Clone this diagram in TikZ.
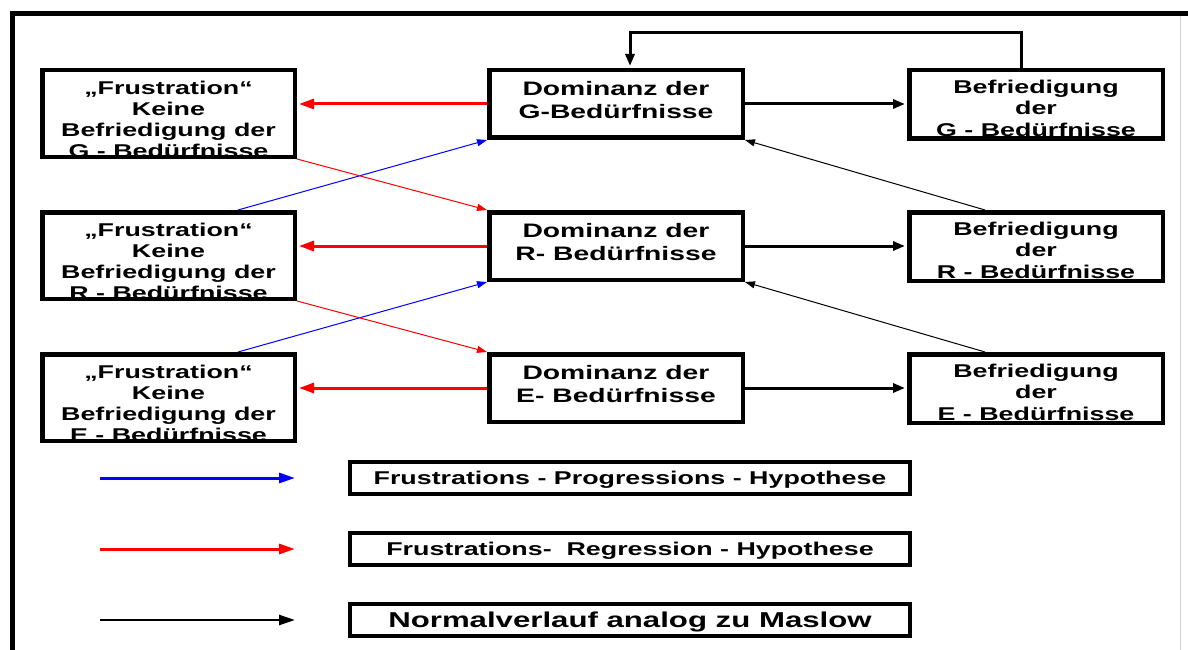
\documentclass[tikz,border=0pt]{standalone}
\usepackage{fontspec}
\setmainfont{Liberation Sans}[FakeStretch=1.45]
\usetikzlibrary{arrows.meta}
\begin{document}
\begin{tikzpicture}[x=1pt,y=-1pt,
  box/.style={draw, line width=4.5pt, fill=white, inner sep=0pt, align=center},
  lbox/.style={box, minimum width=252.5pt, minimum height=86.5pt},
  mbox/.style={box, minimum width=253.5pt, minimum height=67.5pt,
     font=\bfseries\fontsize{19.5}{23}\selectfont},
  rbox/.style={box, minimum width=253.5pt, minimum height=68.5pt,
     font=\bfseries\fontsize{18.5}{21.5}\selectfont},
  legbox/.style={box, line width=4pt, minimum width=560pt, minimum height=32pt},
  ltext/.style={align=center, inner sep=0pt, font=\bfseries\fontsize{18.5}{21}\selectfont},
  redthick/.style={draw=red, line width=3pt, -{Triangle[length=15pt,width=10pt]}},
  blackthick/.style={draw=black, line width=3pt, -{Triangle[length=12pt,width=9pt]}},
  thinarrow/.style={line width=1pt, -{Triangle[length=10pt,width=7pt]}},
  legarrow/.style={line width=3pt, -{Triangle[length=16pt,width=10pt]}}
]
\useasboundingbox (0,0) rectangle (1188,650);
% outer frame
\coordinate (fa) at (12.5,650);
\coordinate (fb) at (12.5,14);
\coordinate (fc) at (1188,14);
\coordinate (ga) at (1180,16);
\coordinate (gb) at (1180,650);
\draw[gray!35, line width=1pt] (ga) -- (gb);
\draw[line width=5pt] (fa) -- (fb) -- (fc);

% left frustration boxes (text clipped by the box)
\node[lbox, path picture={\node[ltext] (frustGt) at ([yshift=-6pt]path picture bounding box.center)
   {„Frustration“\\Keine\\Befriedigung der\\G - Bedürfnisse};}] (frustG) at (168.5,113.5) {};
\node[lbox, path picture={\node[ltext] (frustRt) at ([yshift=-6pt]path picture bounding box.center)
   {„Frustration“\\Keine\\Befriedigung der\\R - Bedürfnisse};}] (frustR) at (168.5,255.5) {};
\node[lbox, path picture={\node[ltext] (frustEt) at ([yshift=-6pt]path picture bounding box.center)
   {„Frustration“\\Keine\\Befriedigung der\\E - Bedürfnisse};}] (frustE) at (168.5,397.5) {};

% middle dominance boxes
\node[mbox] (domG) at (616,104) {\raisebox{-4pt}[0pt][0pt]{\begin{tabular}{@{}c@{}}Dominanz der\\G-Bedürfnisse\end{tabular}}};
\node[mbox] (domR) at (616,246) {\raisebox{-4pt}[0pt][0pt]{\begin{tabular}{@{}c@{}}Dominanz der\\R- Bedürfnisse\end{tabular}}};
\node[mbox] (domE) at (616,388) {\raisebox{-4pt}[0pt][0pt]{\begin{tabular}{@{}c@{}}Dominanz der\\E- Bedürfnisse\end{tabular}}};

% right satisfaction boxes
\node[rbox] (befG) at (1036,104.5) {\raisebox{-10.5pt}[0pt][0pt]{\begin{tabular}{@{}c@{}}Befriedigung\\der\\G - Bedürfnisse\end{tabular}}};
\node[rbox] (befR) at (1036,246.5) {\raisebox{-10.5pt}[0pt][0pt]{\begin{tabular}{@{}c@{}}Befriedigung\\der\\R - Bedürfnisse\end{tabular}}};
\node[rbox] (befE) at (1036,388.5) {\raisebox{-10.5pt}[0pt][0pt]{\begin{tabular}{@{}c@{}}Befriedigung\\der\\E - Bedürfnisse\end{tabular}}};

% regression (thick red) arrows
\draw[redthick, shorten >=2pt] (domG.west) -- (frustG.east |- domG.west);
\draw[redthick, shorten >=2pt] (domR.west) -- (frustR.east |- domR.west);
\draw[redthick, shorten >=2pt] (domE.west) -- (frustE.east |- domE.west);

% normal flow (thick black) arrows
\draw[blackthick, shorten >=2pt] (domG.east) -- (befG.west |- domG.east);
\draw[blackthick, shorten >=2pt] (domR.east) -- (befR.west |- domR.east);
\draw[blackthick, shorten >=2pt] (domE.east) -- (befE.west |- domE.east);

% feedback loop
\coordinate (loopTop) at (0,33);
\coordinate (la) at ([xshift=-15pt]befG.north);
\coordinate (lb) at ([xshift=14pt]domG.north);
\draw[blackthick, shorten >=2pt] (la) -- (la |- loopTop) -- (lb |- loopTop) -- (lb);

% progression (thin blue) arrows
\coordinate (pr1) at ([xshift=69.5pt]frustR.north);
\coordinate (pr2) at ([xshift=69.5pt]frustE.north);
\draw[thinarrow, blue] (pr1) -- (domG.south west);
\draw[thinarrow, blue] (pr2) -- (domR.south west);

% regression (thin red) arrows
\draw[thinarrow, red] (frustG.south east) -- (domR.north west);
\draw[thinarrow, red] (frustR.south east) -- (domE.north west);

% normal (thin black) arrows
\coordinate (nb1) at ([xshift=-51pt]befR.north);
\coordinate (nb2) at ([xshift=-51pt]befE.north);
\draw[thinarrow, black] (nb1) -- (domG.south east);
\draw[thinarrow, black] (nb2) -- (domR.south east);

% legend
\coordinate (lb1a) at (100,478); \coordinate (lb1b) at (295,478);
\coordinate (lb2a) at (100,549); \coordinate (lb2b) at (295,549);
\coordinate (lb3a) at (100,620); \coordinate (lb3b) at (295,620);
\draw[legarrow, blue] (lb1a) -- (lb1b);
\draw[legarrow, red] (lb2a) -- (lb2b);
\draw[legarrow, black, line width=2.5pt] (lb3a) -- (lb3b);
\node[legbox, font=\bfseries\fontsize{18.5}{21}\selectfont] (legP) at (630,478) {\raisebox{-6.6pt}[0pt][0pt]{Frustrations - Progressions - Hypothese}};
\node[legbox, font=\bfseries\fontsize{18.5}{21}\selectfont] (legR) at (630,549) {\raisebox{-6.6pt}[0pt][0pt]{Frustrations-~ Regression - Hypothese}};
\node[legbox, font=\bfseries\fontsize{21.5}{24}\selectfont] (legN) at (630,620) {\raisebox{-7.7pt}[0pt][0pt]{Normalverlauf analog zu Maslow}};
\end{tikzpicture}
\end{document}
